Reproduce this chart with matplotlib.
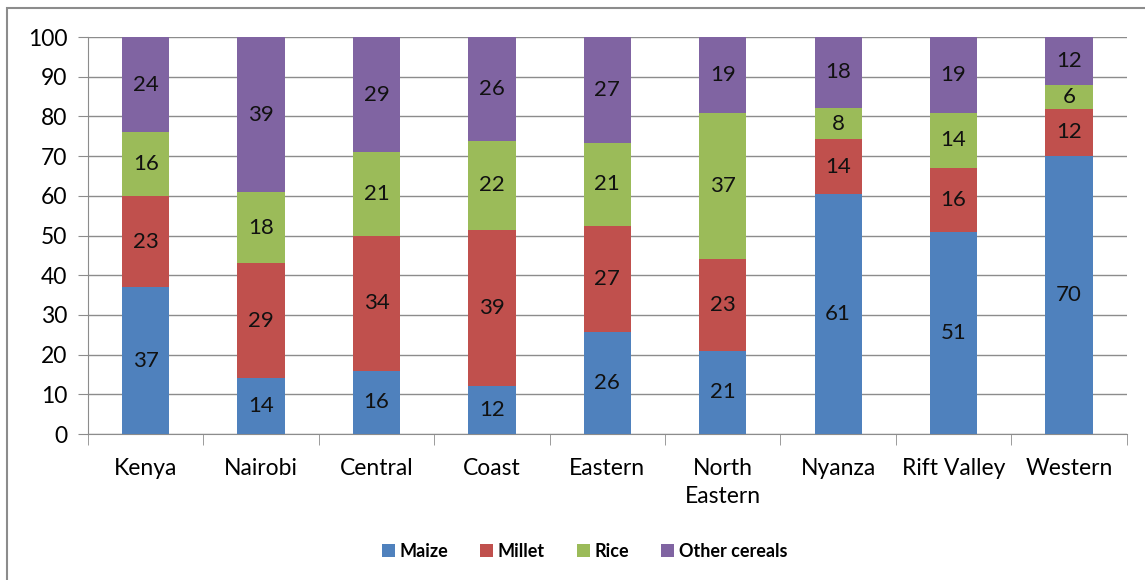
import matplotlib

matplotlib.use("Agg")
import matplotlib.pyplot as plt
import numpy as np
from matplotlib.patches import Rectangle

regions = ["Kenya", "Nairobi", "Central", "Coast", "Eastern", "North\nEastern",
           "Nyanza", "Rift Valley", "Western"]
maize = [37, 14, 16, 12, 26, 21, 61, 51, 70]
millet = [23, 29, 34, 39, 27, 23, 14, 16, 12]
rice = [16, 18, 21, 22, 21, 37, 8, 14, 6]
other = [24, 39, 29, 26, 27, 19, 18, 19, 12]

series = ["Maize", "Millet", "Rice", "Other cereals"]
colors = ["#4F81BD", "#C0504D", "#9BBB59", "#8064A2"]

plt.rcParams["font.family"] = ["Lato", "DejaVu Sans"]

fig = plt.figure(figsize=(11.45, 5.8), dpi=100)
ax = fig.add_axes([0.0769, 0.2517, 0.9071, 0.6843])

# outer chart border
fig.patches.append(Rectangle((7 / 1145, -0.1), 1.2, (580 - 8) / 580 + 0.1,
                             transform=fig.transFigure, fill=False,
                             edgecolor="#8c8c8c", linewidth=1.5))

data = np.array([maize, millet, rice, other], dtype=float)
pct = data / data.sum(axis=0) * 100
x = np.arange(len(regions))
bottom = np.zeros(len(regions))
for vals, raw, name, col in zip(pct, data, series, colors):
    ax.bar(x, vals, 0.41, bottom=bottom, color=col, label=name, zorder=3)
    for xi, b, v, r in zip(x, bottom, vals, raw):
        ax.text(xi, b + v / 2, f"{int(r)}", ha="center", va="center",
                fontsize=16, color="#111111", zorder=4)
    bottom += vals

ax.set_xlim(-0.5, len(regions) - 0.5)
ax.set_ylim(0, 100)
ax.set_yticks(range(0, 101, 10))
ax.tick_params(axis="y", labelsize=16.5, length=7, color="#8c8c8c", pad=8)
ax.yaxis.grid(True, color="#8c8c8c", linewidth=1, zorder=0)
ax.set_xticks(x)
ax.set_xticklabels(regions, fontsize=16.5, linespacing=1.45)
ax.tick_params(axis="x", length=0, pad=17)
ax.set_xticks(np.arange(-0.5, len(regions)), minor=True)
ax.tick_params(axis="x", which="minor", length=8, color="#8c8c8c")
for s in ["top", "right"]:
    ax.spines[s].set_visible(False)
for s in ["left", "bottom"]:
    ax.spines[s].set_color("#8c8c8c")

ax.legend(loc="center", bbox_to_anchor=(0.478, -0.295), ncol=4, frameon=False,
          handlelength=0.7, handleheight=0.7, handletextpad=0.25,
          columnspacing=1.8, prop={"weight": "bold", "size": 13})

fig.savefig("out.png", dpi=100)
